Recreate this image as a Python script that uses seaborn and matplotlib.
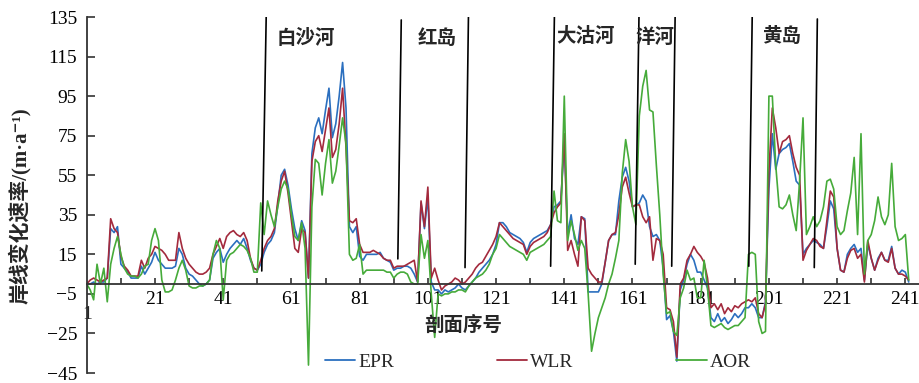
import numpy as np
import pandas as pd
import seaborn as sns
import matplotlib
matplotlib.use('Agg')
from matplotlib import pyplot as plt
from matplotlib.lines import Line2D

# shoreline change rate per profile
epr = [
    0, 0, 1, 0, 1, 1, 3, 28, 26, 29,
    10, 8, 6, 3, 3, 3, 9, 5, 8, 11,
    16, 12, 10, 8, 8, 8, 9, 18, 15, 8,
    5, 4, 2, 0, -1, 0, 2, 13, 16, 18,
    11, 15, 18, 20, 22, 20, 23, 18, 12, 8,
    7, 10, 16, 20, 22, 26, 40, 55, 58, 50,
    38, 28, 22, 32, 27, 3, 66, 79, 84, 76,
    88, 99, 74, 81, 95, 112, 89, 29, 26, 29,
    14, 12, 15, 15, 15, 15, 16, 13, 12, 11,
    7, 8, 8, 9, 9, 8, 5, 1, 41, 28,
    44, 1, -3, -3, -5, -3, -4, -3, -2, 0,
    -2, -3, -1, 1, 3, 6, 8, 10, 12, 15,
    20, 31, 31, 29, 26, 25, 24, 23, 21, 16,
    21, 23, 24, 25, 26, 27, 30, 39, 40, 42,
    72, 25, 35, 23, 20, 34, 33, -4, -4, -4,
    -4, 0, 11, 22, 25, 25, 42, 54, 59, 52,
    39, 40, 41, 45, 42, 29, 24, 25, 22, 8,
    -18, -16, -24, -39, -3, 2, 10, 15, 12, 6,
    6, 2, -2, -17, -19, -15, -19, -17, -20, -18,
    -15, -17, -15, -12, -12, -10, -12, -17, -17, -9,
    48, 76, 58, 66, 68, 69, 71, 62, 52, 50,
    15, 18, 20, 22, 21, 20, 18, 29, 42, 38,
    18, 7, 6, 15, 18, 20, 16, 18, 2, 20,
    13, 7, 13, 16, 12, 12, 19, 8, 5, 7, 6, 1,
]

wlr = [
    0, 2, 3, 2, 1, 2, 3, 33, 28, 26,
    14, 9, 7, 4, 4, 4, 12, 8, 13, 15,
    19, 18, 17, 15, 12, 12, 12, 26, 18, 13,
    10, 8, 6, 5, 5, 6, 8, 15, 19, 23,
    18, 24, 26, 27, 25, 24, 26, 22, 13, 8,
    7, 12, 18, 22, 24, 28, 42, 52, 57, 46,
    32, 18, 16, 28, 26, 3, 62, 72, 75, 67,
    78, 89, 64, 68, 81, 99, 69, 32, 31, 33,
    20, 16, 16, 16, 17, 16, 15, 13, 12, 12,
    8, 9, 9, 9, 10, 11, 12, 1, 42, 29,
    49, 3, 8, 2, -3, -1, 0, 1, 3, 2,
    0, 1, 3, 5, 8, 10, 11, 14, 17, 20,
    24, 31, 29, 27, 25, 23, 22, 21, 20, 15,
    19, 21, 22, 23, 24, 26, 30, 36, 39, 41,
    76, 17, 22, 15, 9, 34, 32, 8, 5, 3,
    1, 1, 11, 22, 25, 26, 35, 49, 54, 46,
    39, 40, 40, 34, 31, 34, 12, 23, 22, 15,
    -12, -13, -19, -37, 0, 3, 12, 15, 19, 16,
    14, 11, 3, -12, -10, -13, -10, -15, -12, -14,
    -11, -12, -10, -9, -8, -9, -7, -15, -17, -10,
    57, 89, 79, 66, 72, 73, 75, 66, 59, 55,
    12, 17, 20, 23, 22, 19, 18, 32, 47, 44,
    18, 7, 6, 13, 17, 18, 13, 15, 1, 22,
    13, 7, 12, 16, 12, 11, 18, 8, 5, 5, 4, 2,
]

aor = [
    0, -3, -8, 10, 0, 8, -9, 10, 18, 24,
    15, 8, 5, 4, 4, 3, 5, 9, 10, 22,
    28, 22, 2, -4, -4, -3, 2, 8, 12, 7,
    -1, -2, -2, -1, -1, 0, 2, 15, 22, 18,
    -8, 12, 15, 16, 18, 20, 19, 17, 13, 6,
    6, 41, 25, 42, 35, 29, 39, 48, 52, 48,
    35, 24, 22, 31, 18, -41, 39, 63, 61, 45,
    61, 73, 51, 57, 70, 84, 71, 15, 12, 13,
    20, 5, 7, 7, 7, 7, 7, 7, 6, 6,
    3, 5, 6, 6, 5, 1, 0, 0, 25, 13,
    22, -5, -27, -5, -6, -5, -5, -4, -4, -3,
    -3, -4, -1, 1, 3, 4, 5, 7, 10, 15,
    18, 25, 23, 21, 19, 18, 17, 16, 15, 12,
    16, 17, 18, 19, 20, 22, 24, 47, 32, 31,
    95, 22, 32, 25, 17, 22, 18, -5, -34, -25,
    -17, -12, -7, 0, 5, 13, 22, 56, 73, 62,
    39, 30, 85, 100, 108, 88, 87, 60, 35, 5,
    -15, -14, -24, -26, -7, -2, 7, 2, 3, -7,
    -7, 12, -2, -21, -22, -21, -20, -22, -23, -22,
    -21, -21, -19, -17, 15, 16, 15, -19, -25, -24,
    95, 95, 60, 39, 38, 40, 45, 35, 27, 52,
    84, 25, 29, 34, 29, 32, 39, 52, 53, 48,
    29, 25, 27, 37, 46, 64, 25, 76, 5, 22,
    25, 32, 44, 34, 30, 35, 61, 29, 22, 23, 25, 2,
]

methods = ['EPR', 'WLR', 'AOR']
colors = {'EPR': '#2b6fbf', 'WLR': '#a32a3d', 'AOR': '#46ab3a'}

y_ticks = [-45, -25, -5, 15, 35, 55, 75, 95, 115, 135]
x_ticks = list(range(21, 242, 20))
x_minor = list(range(11, 242, 10))

# coastal sections and the boundary lines between them
regions = ['白沙河', '红岛', '大沽河', '洋河', '黄岛']
region_x = [65.2, 103.6, 147.3, 167.6, 204.6]
region_y = [124, 124, 125, 124.5, 125]
div_x0 = [52.3, 92.2, 111.9, 137.0, 161.8, 172.5, 195.1, 214.3]
div_x1 = [53.6, 93.2, 112.9, 138.1, 162.9, 173.5, 196.1, 215.2]
div_y0 = [6.6, 12.7, 8.3, 9, 10, 9, 9, 8.3]
div_y1 = [135, 133.5, 135, 135, 135, 135, 135, 134]


def build_df():
    frames = []
    for name, vals in zip(methods, [epr, wlr, aor]):
        frames.append(pd.DataFrame({'profile': np.arange(1, len(vals) + 1),
                                    'rate': vals, 'method': name}))
    return pd.concat(frames, ignore_index=True)


sns.set_style('ticks')
plt.rcParams['font.family'] = ['Liberation Serif', 'Noto Sans CJK SC', 'DejaVu Sans']

df = build_df()

fig = plt.figure(figsize=(9.2, 3.83), dpi=100)
ax = fig.add_axes([86.8 / 920, 10 / 383, 1 - 86.8 / 920, 356 / 383])

sns.lineplot(data=df, x='profile', y='rate', hue='method', hue_order=methods,
             palette=colors, linewidth=1.2, estimator=None, legend=False, ax=ax)

for x0, x1, y0, y1 in zip(div_x0, div_x1, div_y0, div_y1):
    ax.plot([x0, x1], [y0, y1], color='black', lw=1.2)

for name, x, y in zip(regions, region_x, region_y):
    ax.text(x, y, name, ha='center', va='center', fontsize=14, fontweight='bold')

ax.set_xlim(1, 245.3)
ax.set_ylim(-45, 135)
ax.set_yticks(y_ticks)
ax.set_xticks(x_ticks)
ax.set_xticks(x_minor, minor=True)
ax.set_xlabel('')
ax.set_ylabel('')

ax.spines['top'].set_visible(False)
ax.spines['right'].set_visible(False)
ax.spines['bottom'].set_position(('data', 0))
for s in ['left', 'bottom']:
    ax.spines[s].set_color('#333333')
    ax.spines[s].set_linewidth(1.3)

ax.tick_params(axis='y', direction='in', length=6, width=1.2, pad=7,
               labelsize=14, colors='#333333', labelcolor='black')
ax.tick_params(axis='x', which='both', direction='in', length=4.5, width=1.2,
               pad=5, labelsize=14, colors='#333333', labelcolor='black')

ax.text(1, -15.2, '1', ha='center', va='center', fontsize=14)
ax.text(111.4, -20.8, '剖面序号', ha='center', va='center', fontsize=14,
        fontweight='bold')
fig.text(20 / 920, 1 - 206 / 383, '岸线变化速率/(m·a⁻¹)', rotation=90,
         ha='center', va='center', fontsize=15, fontweight='bold')

handles = [Line2D([], [], color=colors[m], lw=1.3) for m in methods]
ax.legend(handles, methods, loc='center left', bbox_to_anchor=(325 / 920, 1 - 362 / 383),
          bbox_transform=fig.transFigure, ncol=3, frameon=False, fontsize=14,
          handlelength=1.55, handletextpad=0.15, columnspacing=5.3,
          borderpad=0, borderaxespad=0)

plt.savefig('out.png', dpi=100)
